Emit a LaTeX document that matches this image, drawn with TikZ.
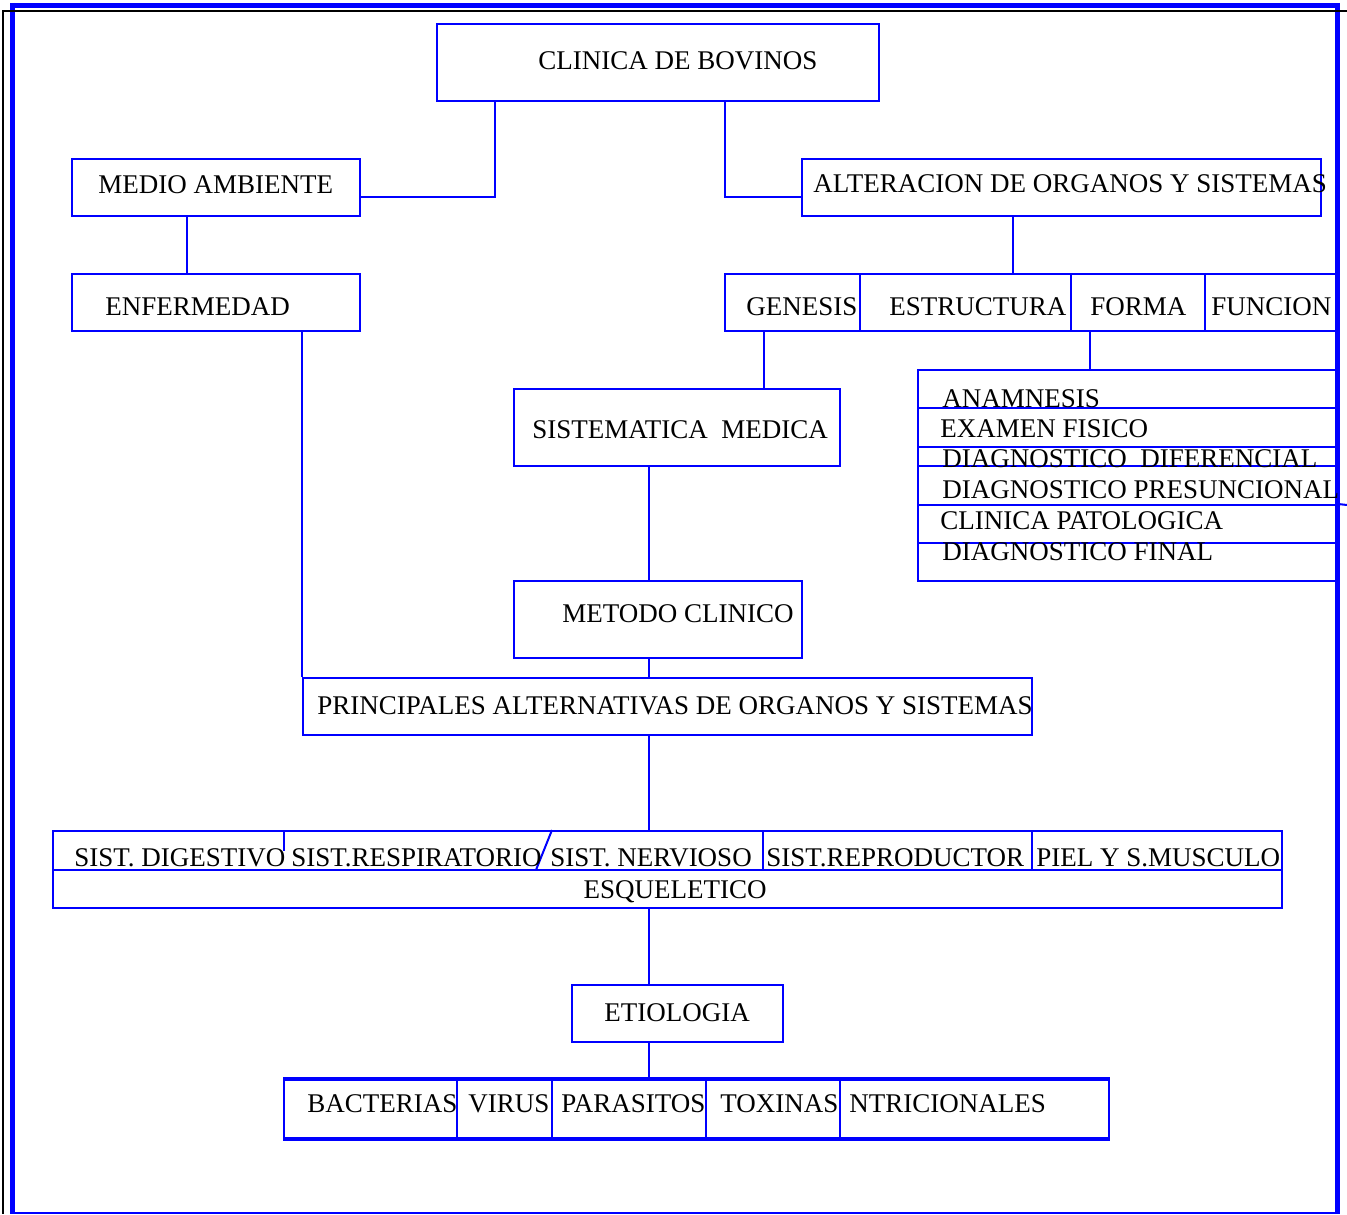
\documentclass[tikz,border=0pt]{standalone}
\usepackage{fontspec}
\setmainfont{Liberation Serif}
\usetikzlibrary{fit}

\tikzset{
    box/.style={draw=blue, line width=1pt, inner sep=0pt},
    conn/.style={blue, line width=1pt},
    txt/.style={anchor=west, inner sep=0pt, text height=9pt, text depth=0pt,
        font=\fontsize{13.5}{16}\selectfont},
    frame/.style={blue, line width=2.6pt}
}

\begin{document}
\begin{tikzpicture}[x=0.5pt, y=-0.5pt]
      \useasboundingbox (0,0) rectangle (1347,1214);

      % page frame
      \draw[frame] (10,5.5) -- (1340,5.5);
      \draw[frame] (12.5,3) -- (12.5,1214);
      \draw[frame] (1337.5,3) -- (1337.5,1214);
      \draw[blue, line width=1pt] (12,1212.5) -- (1338,1212.5);
      \draw[black, line width=0.8pt] (1347,11) -- (3,11) -- (3,1214);

      % boxes
      \node[box, fit={(437,24) (879,101)}] (clinica) {};
      \node[box, fit={(72,159) (360,216)}] (medio) {};
      \node[box, fit={(802,159) (1321,216)}] (alter) {};
      \node[box, fit={(72,274) (360,331)}] (enferm) {};
      \node[box, fit={(725,274) (860,331)}] (genesis) {};
      \node[box, fit={(860,274) (1071,331)}] (estruct) {};
      \node[box, fit={(1071,274) (1205,331)}] (forma) {};
      \node[box, fit={(1205,274) (1337,331)}] (funcion) {};
      \node[box, fit={(514,389) (840,466)}] (sistem) {};
      \node[box, fit={(514,581) (802,658)}] (metodo) {};
      \node[box, fit={(303,678) (1032,735)}] (princ) {};
      \node[box, fit={(53,831) (1282,908)}] (sist) {};
      \node[box, fit={(572,985) (783,1042)}] (etiol) {};

      % list of the clinical method
      \node[box, fit={(918,370) (1337,408)}] (anam) {};
      \node[box, fit={(918,408) (1337,447)}] (examen) {};
      \node[box, fit={(918,447) (1337,466)}] (difer) {};
      \node[box, fit={(918,466) (1337,505)}] (presun) {};
      \node[box, fit={(918,505) (1337,543)}] (patol) {};
      \node[box, fit={(918,543) (1337,581)}] (final) {};
      \coordinate (presun-end) at (1347,505);
      \draw[conn] (patol.north east) -- (presun-end);

      % causes
      \node[box, fit={(284,1080) (457,1138)}] (bact) {};
      \node[box, fit={(457,1080) (552,1138)}] (virus) {};
      \node[box, fit={(552,1080) (706,1138)}] (paras) {};
      \node[box, fit={(706,1080) (840,1138)}] (tox) {};
      \node[box, fit={(840,1080) (1109,1138)}] (nutr) {};
      \draw[conn, line width=1.7pt] (bact.north west) -- (nutr.north east);
      \draw[conn, line width=1.7pt] (bact.south west) -- (nutr.south east);

      % rows inside the systems box
      \draw[conn] (sist.west |- 0,870) -- (sist.east |- 0,870);
      \draw[conn] (284,0 |- sist.north) -- (284,851);
      \draw[conn] (552,0 |- sist.north) -- (536,870);
      \draw[conn] (763,0 |- sist.north) -- (763,870);
      \draw[conn] (1032,0 |- sist.north) -- (1032,870);

      % connectors
      \draw[conn] (495,0 |- clinica.south) |- (medio.east |- 0,197);
      \draw[conn] (725,0 |- clinica.south) |- (alter.west |- 0,197);
      \draw[conn] (187,0 |- medio.south) -- (187,0 |- enferm.north);
      \draw[conn] (enferm.south -| princ.west) -- (princ.north west);
      \draw[conn] (1013,0 |- alter.south) -- (1013,0 |- estruct.north);
      \draw[conn] (764,0 |- genesis.south) -- (764,0 |- sistem.north);
      \draw[conn] (1090,0 |- forma.south) -- (1090,0 |- anam.north);
      \draw[conn] (649,0 |- sistem.south) -- (649,0 |- metodo.north);
      \draw[conn] (649,0 |- metodo.south) -- (649,0 |- princ.north);
      \draw[conn] (649,0 |- princ.south) -- (649,0 |- sist.north);
      \draw[conn] (649,0 |- sist.south) -- (649,0 |- etiol.north);
      \draw[conn] (649,0 |- etiol.south) -- (649,0 |- paras.north);

      % labels
      \node[txt] (t-clinica) at (538,61) {CLINICA DE BOVINOS};
      \node[txt] (t-medio) at (98,184) {MEDIO AMBIENTE};
      \node[txt] (t-alter) at (813,183.5) {ALTERACION DE ORGANOS Y SISTEMAS};
      \node[txt] (t-enferm) at (105,306) {ENFERMEDAD};
      \node[txt] (t-genesis) at (746,306) {GENESIS};
      \node[txt] (t-estruct) at (889,306) {ESTRUCTURA};
      \node[txt] (t-forma) at (1090,306) {FORMA};
      \node[txt] (t-funcion) at (1211,306) {FUNCION};
      \node[txt] (t-sistem) at (532,429) {SISTEMATICA\ \ MEDICA};
      \node[txt] (t-metodo) at (562,613) {METODO CLINICO};
      \node[txt] (t-princ) at (317,705) {PRINCIPALES ALTERNATIVAS DE ORGANOS Y SISTEMAS};

      \node[txt] (t-anam) at (942,398) {ANAMNESIS};
      \node[txt] (t-examen) at (940,428.5) {EXAMEN FISICO};
      \node[txt] (t-difer) at (942,458.5) {DIAGNOSTICO\ \ DIFERENCIAL};
      \node[txt] (t-presun) at (942,489.5) {DIAGNOSTICO PRESUNCIONAL};
      \node[txt] (t-patol) at (940,520) {CLINICA PATOLOGICA};
      \node[txt] (t-final) at (942,551.5) {DIAGNOSTICO FINAL};

      \node[txt] (t-digest) at (74,857.5) {SIST. DIGESTIVO};
      \node[txt] (t-resp) at (291,857.5) {SIST.RESPIRATORIO};
      \node[txt] (t-nerv) at (550,857.5) {SIST. NERVIOSO};
      \node[txt] (t-repro) at (766,857.5) {SIST.REPRODUCTOR};
      \node[txt] (t-piel) at (1036,857.5) {PIEL Y S.MUSCULO};
      \node[txt, anchor=center] (t-esque) at (675,889) {ESQUELETICO};

      \node[txt] (t-etiol) at (604,1012) {ETIOLOGIA};
      \node[txt] (t-bact) at (307,1103) {BACTERIAS};
      \node[txt] (t-virus) at (468,1103) {VIRUS};
      \node[txt] (t-paras) at (561,1103) {PARASITOS};
      \node[txt] (t-tox) at (720,1103) {TOXINAS};
      \node[txt] (t-nutr) at (849,1103) {NTRICIONALES};
\end{tikzpicture}
\end{document}
